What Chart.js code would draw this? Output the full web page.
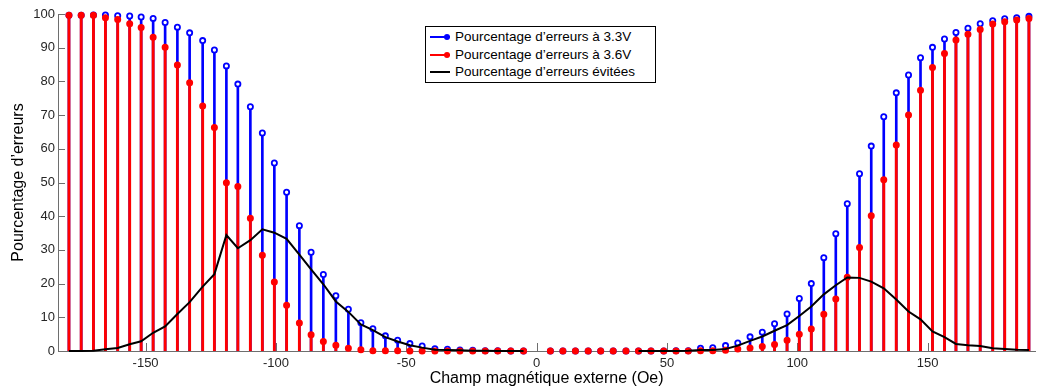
<!DOCTYPE html>
<html>
<head>
<meta charset="utf-8">
<script src="https://cdn.jsdelivr.net/npm/chart.js@4.4.1/dist/chart.umd.min.js"></script>
<style>
    html, body { margin: 0; padding: 0; background: #fff; }
    #wrap { position: relative; width: 1041px; height: 388px; }
    #legend {
        position: absolute; left: 425px; top: 26px; width: 231px; height: 57px;
        box-sizing: border-box; border: 1px solid #000; background: #fff;
        font: 13.5px "Liberation Sans", Arial, sans-serif; color: #000;
    }
    .row { position: absolute; left: 0; height: 16px; line-height: 16px; white-space: nowrap; }
    .line { position: absolute; left: 4px; top: 7px; width: 20px; height: 2px; }
    .dot { position: absolute; left: 18px; top: 5px; width: 6px; height: 6px; border-radius: 50%; }
    .txt { position: absolute; left: 29px; top: 0; }
</style>
</head>
<body>
<div id="wrap">
    <canvas id="c" width="1041" height="388"></canvas>
    <div id="legend"></div>
</div>
<script>
// field values (Oe)
const fieldOe = [
    -179.4, -174.7, -170.0, -165.4, -160.7, -156.1, -151.7, -147.1, -142.5, -137.8,
    -133.1, -128.1, -123.6, -119.0, -114.6, -109.8, -105.2, -100.6, -95.9, -91.0,
    -86.5, -81.8, -77.0, -72.2, -67.4, -62.8, -58.0, -53.3, -48.6, -43.9,
    -39.0, -34.2, -29.4, -24.5, -19.7, -14.9, -9.9, -5.0,
    5.3, 10.1, 14.9, 19.8, 24.6, 29.4, 34.3, 39.1, 43.9, 48.8,
    53.5, 58.2, 62.9, 67.6, 72.5, 77.2, 81.9, 86.6, 91.3, 96.1,
    100.8, 105.4, 110.2, 114.8, 119.2, 123.9, 128.4, 133.2, 138.0, 142.7,
    147.3, 151.9, 156.5, 160.9, 165.5, 170.2, 175.0, 179.6, 184.2, 188.9
];

// % errors at 3.3V
const errors33 = [
    99.6, 99.6, 99.7, 99.7, 99.5, 99.4, 99.1, 98.7, 97.5, 96.1,
    94.4, 92.1, 89.3, 84.6, 79.2, 72.5, 64.7, 55.8, 47.1, 37.2,
    29.3, 22.7, 16.4, 12.4, 8.4, 6.6, 4.5, 3.2, 2.2, 1.5,
    0.7, 0.5, 0.3, 0.2, 0.1, 0.05, 0, 0,
    0, 0, 0, 0, 0, 0, 0, 0, 0, 0,
    0.05, 0.1, 0.8, 1.0, 1.6, 2.4, 4.2, 5.6, 8.1, 11.0,
    15.6, 20.0, 27.7, 34.8, 43.7, 52.6, 60.8, 69.5, 76.6, 81.9,
    87.0, 90.1, 92.6, 94.5, 95.8, 97.1, 98.0, 98.6, 98.9, 99.3
];

// % errors at 3.6V
const errors36 = [
    99.6, 99.6, 99.6, 98.9, 98.4, 97.1, 96.0, 93.1, 90.1, 84.9,
    79.6, 72.7, 66.3, 49.9, 48.8, 39.4, 28.4, 20.5, 13.6, 8.3,
    4.8, 2.8, 1.7, 0.8, 0.4, 0.1, 0.1, 0.1, 0, 0,
    0, 0, 0, 0, 0, 0, 0, 0,
    0, 0, 0, 0, 0, 0, 0, 0, 0, 0,
    0, 0, 0.1, 0.1, 0.2, 0.6, 0.9, 1.3, 1.9, 3.2,
    5.0, 6.5, 10.9, 15.4, 21.9, 30.7, 40.1, 50.8, 61.1, 70.0,
    77.4, 84.1, 88.3, 92.3, 94.0, 95.4, 97.0, 97.7, 98.2, 98.7
];

// % errors avoided
const avoided = [
    0, 0, 0.1, 0.5, 0.9, 2.0, 2.9, 5.4, 7.3, 11.0,
    14.5, 19.1, 22.8, 34.4, 30.5, 32.9, 36.1, 35.1, 33.3, 28.6,
    24.2, 19.8, 14.7, 11.6, 7.9, 6.2, 4.1, 2.8, 1.7, 1.0,
    0.4, 0.3, 0.2, 0.1, 0.1, 0, 0, 0,
    null, null, null, null, null, null, null, 0, 0, 0,
    0, 0.1, 0.3, 0.3, 0.6, 1.6, 3.0, 4.3, 6.0, 7.7,
    10.4, 13.2, 16.8, 19.5, 21.8, 21.7, 20.6, 18.6, 15.3, 11.7,
    9.4, 5.8, 4.1, 2.1, 1.7, 1.5, 0.8, 0.6, 0.4, 0.3
];

const xTicks = [-150, -100, -50, 0, 50, 100, 150];
const yTicks = [0, 10, 20, 30, 40, 50, 60, 70, 80, 90, 100];

const seriesNames = [
    "Pourcentage d\u2019erreurs \u00e0 3.3V",
    "Pourcentage d\u2019erreurs \u00e0 3.6V",
    "Pourcentage d\u2019erreurs \u00e9vit\u00e9es"
];

const BLUE = "#0000ff";
const RED = "#ff0000";
const AXIS = "#6e6e6e";
const FONT = "'Liberation Sans', Arial, sans-serif";

function pts(vals) {
    return fieldOe.map(function (x, i) {
        return { x: x, y: vals[i] };
    });
}

// MATLAB-like inward tick marks
const inwardTicks = {
    id: "inwardTicks",
    beforeDatasetsDraw: function (chart) {
        const ctx = chart.ctx;
        const a = chart.chartArea;
        const xs = chart.scales.x, ys = chart.scales.y;
        ctx.save();
        ctx.strokeStyle = AXIS;
        ctx.lineWidth = 1;
        ctx.beginPath();
        xTicks.forEach(function (v) {
            const px = Math.round(xs.getPixelForValue(v)) + 0.5;
            ctx.moveTo(px, a.bottom);
            ctx.lineTo(px, a.bottom - 8);
        });
        yTicks.forEach(function (v) {
            const py = Math.round(ys.getPixelForValue(v)) + 0.5;
            ctx.moveTo(a.left, py);
            ctx.lineTo(a.left + 7, py);
        });
        ctx.stroke();
        ctx.restore();
    }
};

new Chart(document.getElementById("c"), {
    type: "bar",
    data: {
        datasets: [
            {
                type: "line",
                label: seriesNames[2],
                data: pts(avoided),
                borderColor: "#000",
                borderWidth: 2,
                pointRadius: 0,
                spanGaps: false,
                tension: 0,
                fill: false,
                clip: false,
                order: 0
            },
            {
                type: "scatter",
                data: pts(errors36),
                showLine: false,
                pointRadius: 2.6,
                pointBorderWidth: 1.8,
                pointBorderColor: RED,
                pointBackgroundColor: RED,
                clip: false,
                order: 1
            },
            {
                type: "bar",
                label: seriesNames[1],
                data: pts(errors36),
                backgroundColor: RED,
                barThickness: 2.2,
                grouped: false,
                borderWidth: 0,
                order: 2
            },
            {
                type: "scatter",
                data: pts(errors33),
                showLine: false,
                pointRadius: 2.6,
                pointBorderWidth: 1.8,
                pointBorderColor: BLUE,
                pointBackgroundColor: "#ffffff",
                clip: false,
                order: 3
            },
            {
                type: "bar",
                label: seriesNames[0],
                data: pts(errors33),
                backgroundColor: BLUE,
                barThickness: 2,
                grouped: false,
                borderWidth: 0,
                order: 4
            }
        ]
    },
    options: {
        responsive: false,
        animation: false,
        layout: { padding: { top: 14, right: 1, left: 0, bottom: 0 } },
        plugins: { legend: { display: false }, tooltip: { enabled: false } },
        scales: {
            x: {
                type: "linear",
                min: -183.6,
                max: 191.3,
                offset: false,
                afterBuildTicks: function (s) {
                    s.ticks = xTicks.map(function (v) { return { value: v }; });
                },
                afterFit: function (s) { s.height = 37; },
                grid: { display: false, drawTicks: false },
                border: { display: true, color: AXIS, width: 1 },
                ticks: {
                    padding: 5,
                    color: "#262626",
                    font: { family: FONT, size: 13 },
                    maxRotation: 0,
                    autoSkip: false
                },
                title: {
                    display: true,
                    text: "Champ magn\u00e9tique externe (Oe)",
                    color: "#000",
                    font: { family: FONT, size: 16 },
                    padding: { top: 0, bottom: 0 }
                }
            },
            y: {
                min: 0,
                max: 100,
                afterBuildTicks: function (s) {
                    s.ticks = yTicks.map(function (v) { return { value: v }; });
                },
                afterFit: function (s) { s.width = 58; },
                grid: { display: false, drawTicks: false },
                border: { display: true, color: AXIS, width: 1 },
                ticks: {
                    padding: 3,
                    color: "#262626",
                    font: { family: FONT, size: 13 }
                },
                title: {
                    display: true,
                    text: "Pourcentage d\u2019erreurs",
                    color: "#000",
                    font: { family: FONT, size: 16 },
                    padding: { top: 9, bottom: 0 }
                }
            }
        }
    },
    plugins: [inwardTicks]
});

// legend box (inside plot, top centre)
(function () {
    const box = document.getElementById("legend");
    const colors = [BLUE, RED, "#000"];
    const tops = [2, 19.5, 37];
    seriesNames.forEach(function (name, i) {
        const row = document.createElement("div");
        row.className = "row";
        row.style.top = tops[i] + "px";
        let html = '<div class="line" style="background:' + colors[i] + '"></div>';
        if (i < 2) html += '<div class="dot" style="background:' + colors[i] + '"></div>';
        html += '<span class="txt">' + name + "</span>";
        row.innerHTML = html;
        box.appendChild(row);
    });
})();
</script>
</body>
</html>
